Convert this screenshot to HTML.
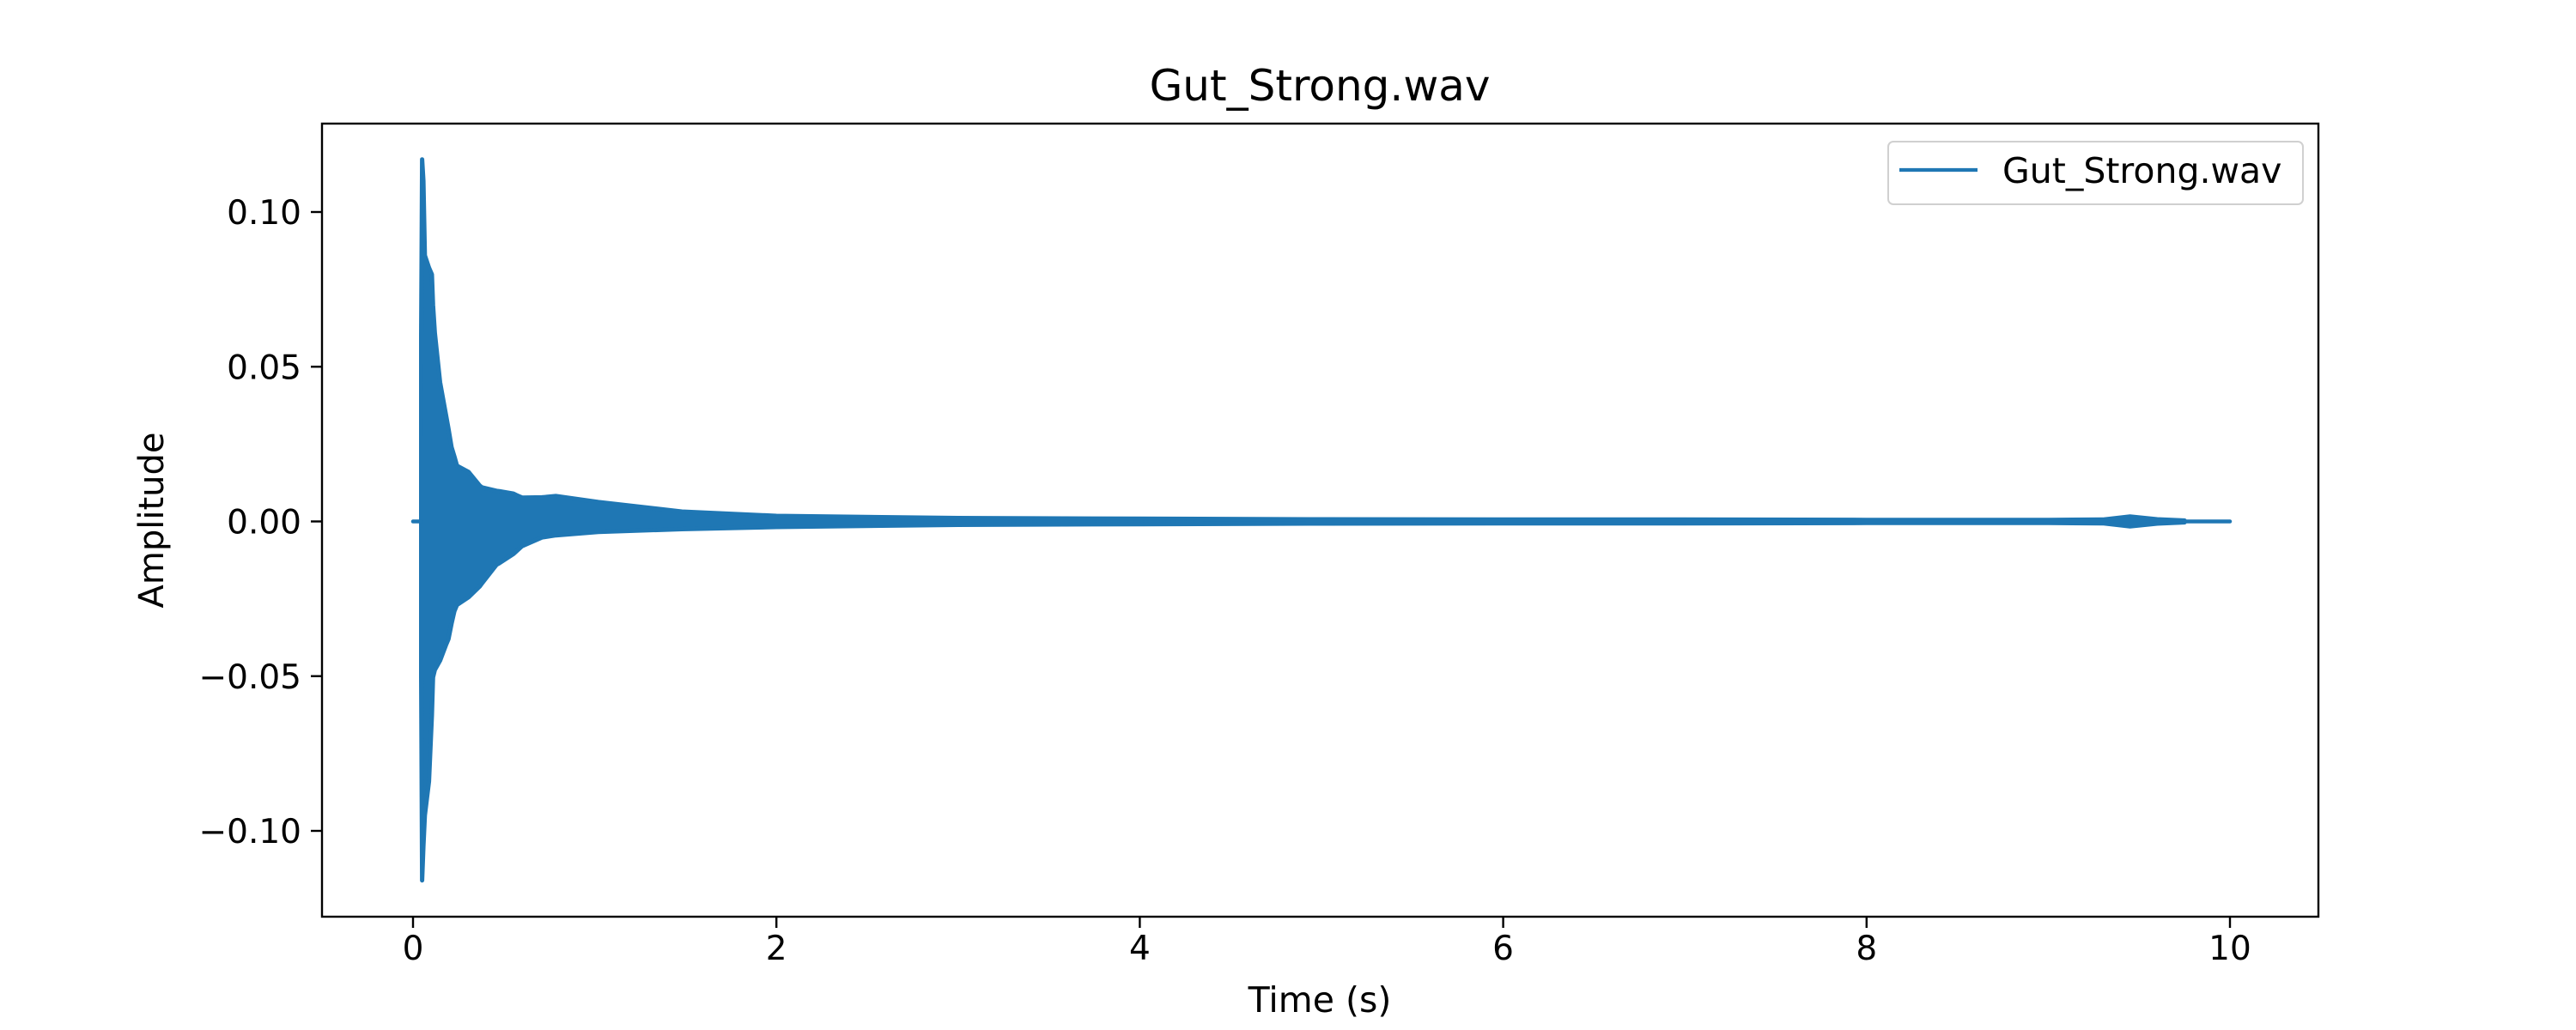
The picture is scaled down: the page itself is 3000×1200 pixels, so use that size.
<!DOCTYPE html>
<html><head><meta charset="utf-8"><style>
html,body{margin:0;padding:0;background:#fff;}
svg{display:block;font-family:"DejaVu Sans","Liberation Sans",sans-serif;}
</style></head><body>
<svg id="chart" width="3000" height="1200" viewBox="0 0 3000 1200" xmlns="http://www.w3.org/2000/svg">
<rect width="3000" height="1200" fill="#fff"/>
<text x="1537" y="117" font-size="50" text-anchor="middle">Gut_Strong.wav</text>
<g id="plot"></g>
<rect x="375" y="144" width="2325" height="924" fill="none" stroke="#000" stroke-width="2.4"/>
<g id="ticks"></g>
<text x="1537" y="1179" font-size="41" text-anchor="middle">Time (s)</text>
<text transform="translate(190,606) rotate(-90)" font-size="40" text-anchor="middle">Amplitude</text>
<g>
<rect x="2199" y="165" width="483" height="73" rx="6" fill="#fff" fill-opacity="0.8" stroke="#d0d0d0" stroke-width="2"/>
<line x1="2212" y1="198" x2="2303" y2="198" stroke="#1f77b4" stroke-width="4.2"/>
<text x="2332" y="213" font-size="41">Gut_Strong.wav</text>
</g>
</svg>
<script>
const envTimes = [0.045,0.05,0.057,0.065,0.088,0.104,0.11,0.12,0.149,0.181,0.195,0.212,0.228,0.242,0.306,0.367,0.38,0.46,0.475,0.553,0.57,0.6,0.71,0.786,1.02,1.48,2.0,3.0,4.0,5.0,6.0,7.0,8.0,9.0,9.3,9.45,9.6,9.75];
const envUpper = [0.06,0.117,0.11,0.086,0.082,0.0798,0.07,0.061,0.045,0.0346,0.03,0.024,0.021,0.018,0.016,0.0116,0.011,0.0099,0.0098,0.009,0.0085,0.0077,0.0078,0.0082,0.0063,0.0032,0.0018,0.0011,0.0009,0.0007,0.0006,0.0006,0.0005,0.0005,0.0006,0.0016,0.0007,0.0003];
const envLower = [-0.05,-0.116,-0.105,-0.095,-0.084,-0.0626,-0.0504,-0.048,-0.045,-0.04,-0.038,-0.033,-0.029,-0.027,-0.0245,-0.021,-0.020,-0.014,-0.0135,-0.0105,-0.0096,-0.008,-0.0052,-0.0045,-0.0034,-0.0025,-0.0018,-0.0011,-0.0009,-0.0007,-0.0006,-0.0006,-0.0005,-0.0005,-0.0006,-0.0016,-0.0007,-0.0003];
const flatTimes = [0, 0.045, 9.75, 10.0];
const xTicks = [0,2,4,6,8,10];
const yTicks = [-0.10,-0.05,0.00,0.05,0.10];
const yTickLabels = ["\u22120.10","\u22120.05","0.00","0.05","0.10"];

const NS = "http://www.w3.org/2000/svg";
const X = t => 481 + t * 211.6;
const Y = v => 607.5 - v * 3605;
const plot = document.getElementById('plot');
const ticks = document.getElementById('ticks');

let d = '';
envTimes.forEach((t,i)=>{ d += (i?'L':'M') + X(t).toFixed(1) + ',' + Y(envUpper[i]).toFixed(1); });
for (let i = envTimes.length-1; i>=0; i--) d += 'L' + X(envTimes[i]).toFixed(1) + ',' + Y(envLower[i]).toFixed(1);
d += 'Z';
const env = document.createElementNS(NS,'path');
env.setAttribute('d', d);
env.setAttribute('fill', '#1f77b4');
env.setAttribute('stroke', '#1f77b4');
env.setAttribute('stroke-width', '5');
env.setAttribute('stroke-linejoin', 'round');


plot.appendChild(env);

[[0,1],[2,3]].forEach(([a,b])=>{
  const l = document.createElementNS(NS,'line');
  l.setAttribute('x1', X(flatTimes[a])); l.setAttribute('x2', X(flatTimes[b]));
  l.setAttribute('y1', Y(0)); l.setAttribute('y2', Y(0));
  l.setAttribute('stroke', '#1f77b4'); l.setAttribute('stroke-width', '4.5');
  l.setAttribute('stroke-linecap', 'round');
  
  
  plot.appendChild(l);
});

xTicks.forEach(t=>{
  const l = document.createElementNS(NS,'line');
  l.setAttribute('x1', X(t)); l.setAttribute('x2', X(t));
  l.setAttribute('y1', 1068); l.setAttribute('y2', 1081);
  l.setAttribute('stroke', '#000'); l.setAttribute('stroke-width', '2.4');
  
  
  ticks.appendChild(l);
  const tx = document.createElementNS(NS,'text');
  tx.setAttribute('x', X(t)); tx.setAttribute('y', 1118);
  tx.setAttribute('font-size', '39'); tx.setAttribute('text-anchor', 'middle');
  tx.textContent = String(t);
  
  
  ticks.appendChild(tx);
});
yTicks.forEach((v,i)=>{
  const l = document.createElementNS(NS,'line');
  l.setAttribute('x1', 362); l.setAttribute('x2', 375);
  l.setAttribute('y1', Y(v)); l.setAttribute('y2', Y(v));
  l.setAttribute('stroke', '#000'); l.setAttribute('stroke-width', '2.4');
  
  
  ticks.appendChild(l);
  const tx = document.createElementNS(NS,'text');
  tx.setAttribute('x', 351); tx.setAttribute('y', Y(v) + 14);
  tx.setAttribute('font-size', '39'); tx.setAttribute('text-anchor', 'end');
  tx.textContent = yTickLabels[i];
  
  
  ticks.appendChild(tx);
});
</script>
</body></html>
